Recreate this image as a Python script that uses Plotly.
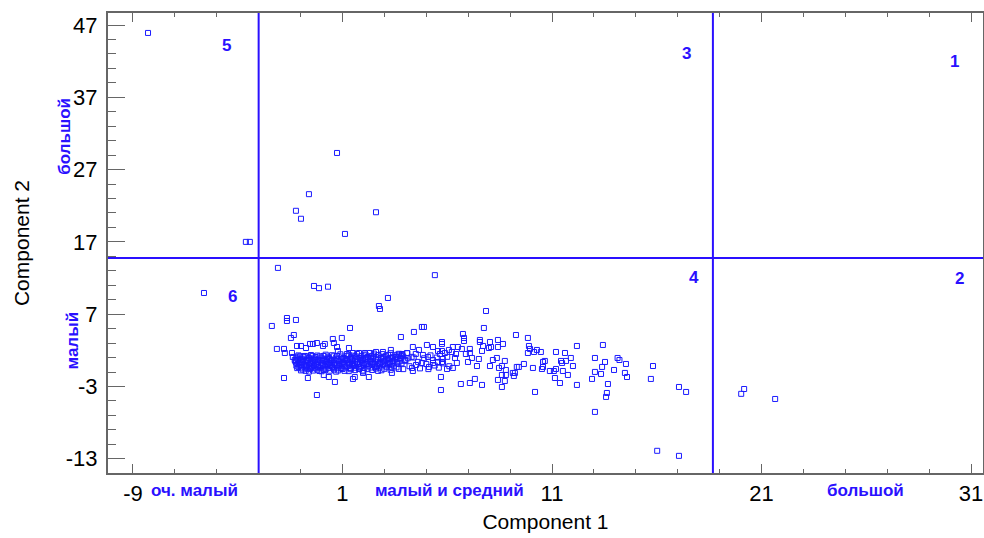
import plotly.graph_objects as go

# ---------------- data (Component 1, Component 2) ----------------
# scattered objects (outside the dense core)
spread_x = [-8.28, -3.61, -3.42, -5.61, 0.74, -0.60, -1.22, -0.98, 2.60, 1.12,
            -2.08, 5.41, -0.36, -0.12, 0.31, 3.17, 2.74, 2.79, 7.85, -2.37,
            -1.65, -1.65, -1.22, 1.36, -1.32, -1.46, 0.54, 0.97, 3.79, 4.41,
            4.79, 4.89, -2.13, -1.79, -1.75, -1.17, -0.98, -0.74, -0.55, -0.41,
            -0.22, 0.07, 0.16, 0.59, 0.74, 1.31, 0.78, -1.41, -1.37, -1.79,
            -0.65, -0.22, 0.11, 0.35, 0.64, 1.50, 1.59, 2.26, 1.79, 1.98,
            3.36, 3.69, 4.36, 4.32, 5.70, 5.70, 4.51, 4.79, 5.13, 5.32,
            5.56, 5.79, 5.89, 5.56, 5.32, 5.03, 4.36, 4.65, 5.75, 5.75,
            2.93, 3.31, 2.60, 2.31, 2.07, 1.79, 1.50, 1.21, 3.84, 4.08,
            3.55, 4.84, 5.08, 5.32,
            7.75, 6.75, 6.80, 6.80, 5.75, 7.56, 7.56, 8.04, 8.42, 9.28,
            9.85, 8.66, 7.71, 8.09, 7.99, 9.90, 6.51, 6.27, 6.08, 7.08,
            8.42, 7.66, 6.22, 6.70, 6.89, 7.08, 6.42, 10.28, 10.14, 10.47,
            9.85, 9.95, 11.19, 11.62, 12.19, 13.43, 5.65, 5.75, 6.37, 6.46,
            6.27, 5.99, 7.18, 6.99, 7.51, 7.42, 8.18, 8.37, 8.75, 8.04,
            8.61, 8.47, 9.32, 9.42, 9.66, 10.57, 10.52, 10.09, 10.66, 10.57,
            11.43, 11.48, 11.67, 11.90, 12.00, 11.19, 11.09, 10.90, 11.52, 11.76,
            11.14, 11.38, 12.19, 13.05, 13.53, 13.39, 13.05, 13.34, 12.91, 14.13,
            14.22, 14.53, 14.48, 14.58, 13.96, 13.67, 13.62, 13.58, 15.82, 15.72,
            6.65, 7.08, 7.32, 7.66, 8.42, 8.61, 8.75, 9.13, 9.23, 8.80,
            8.61, 9.18, 8.80, 10.19, 13.05,
            17.06, 17.40, 16.02, 17.06, 20.03, 20.17, 21.65]
spread_y = [45.9, 17.0, 17.0, 9.93, 29.3, 23.6, 21.3, 20.2, 21.1, 18.1,
            13.4, 12.4, 10.9, 10.6, 10.8, 9.24, 8.13, 7.72, 7.44, 5.37,
            6.06, 6.47, 6.20, 5.09, 4.12, 3.71, 3.57, 3.71, 3.84, 4.54,
            5.23, 5.23, 2.19, 2.19, 1.63, 2.60, 2.60, 2.32, 2.88, 2.88,
            3.01, 2.60, 2.88, 3.01, 2.46, 2.32, 1.91, 1.63, 1.08, -1.83,
            -1.83, -4.18, -1.41, -1.69, -2.38, -1.96, -1.69, -1.69, -0.58, -1.13,
            -1.13, -0.58, -0.86, -0.44, -3.49, -1.69, -0.03, 0.25, -0.30, 0.25,
            0.39, 0.80, 1.63, 1.91, 2.46, 2.74, 2.46, 2.05, 3.15, 2.88,
            1.77, 2.05, 1.77, 1.63, 1.63, 1.63, 1.63, 1.49, 1.49, 1.63,
            1.08, 1.36, 1.08, 0.66,
            5.09, 4.26, 3.71, 3.29, 1.91, 3.43, 3.15, 3.15, 3.43, 4.12,
            3.71, 2.88, 2.60, 2.46, 2.32, 2.60, 2.46, 2.46, 2.05, 2.19,
            2.46, 1.91, 1.77, 2.19, 1.49, 1.63, 1.49, 2.05, 1.77, 1.77,
            1.63, 2.19, 1.77, 1.63, 2.60, 2.74, 1.49, 0.39, 0.94, 0.25,
            -0.44, -0.58, 0.94, 0.39, 0.80, -0.17, 0.66, 0.94, 0.53, -0.17,
            -0.17, -0.44, -0.30, -0.30, 0.11, -0.30, -0.58, -0.44, 0.53, 0.39,
            0.53, 0.25, 0.53, 0.94, -0.17, -0.58, -0.86, -0.86, -0.86, -1.41,
            -1.83, -2.52, -2.79, 0.94, 0.39, -0.30, -0.99, -1.27, -1.96, 0.94,
            0.66, 0.11, -1.13, -1.69, -0.72, -2.66, -3.90, -4.45, -0.17, -1.96,
            -2.66, -2.52, -1.96, -2.79, -2.10, -3.07, -2.24, -1.13, -1.13, -1.41,
            -1.41, -1.55, -0.72, -3.76, -6.52,
            -3.07, -3.76, -11.9, -12.6, -4.02, -3.35, -4.73]

# dense core of the cloud
core_x = [-1.10, -0.80, -0.50, -0.20, 0.20, 0.50, 0.90, 1.30, 1.70, 2.10, 2.50, 2.90, 3.30, 3.70,
          -1.20, -0.95, -0.60, -0.35, 0.00, 0.35, 0.70, 1.05, 1.40, 1.80, 2.20, 2.60, 3.00, 3.40, 3.90, 4.30,
          -1.25, -1.00, -0.70, -0.40, -0.10, 0.15, 0.45, 0.80, 1.15, 1.50, 1.90, 2.30, 2.70, 3.10, 3.50, 4.00,
          -1.15, -0.85, -0.55, -0.25, 0.05, 0.30, 0.60, 0.95, 1.25, 1.60, 2.00, 2.40, 2.80, 3.20, 3.60,
          -1.10, -0.80, -0.45, -0.15, 0.15, 0.50, 0.85, 1.20, 1.55, 1.90, 2.25, 2.65, 3.05, 3.45,
          -0.90, -0.55, -0.20, 0.20, 0.60, 1.00, 1.40, 1.80, 2.20, 2.60, 3.00,
          -0.60, 0.00, 0.70, 1.30, 2.00, 2.70,
          -1.00, -0.65, -0.30, 0.05, 0.40, 0.75, 1.10, 1.45, 1.85, 2.15, 2.45, 2.85, 3.25,
          -1.05, -0.70, -0.35, 0.00, 0.40, 0.75, 1.10, 1.45, 1.75, 2.10, 2.45, 2.80, 3.15,
          3.80, 4.00, 4.20, 4.40, 4.60, 4.70, 4.90, 5.00, 5.20, 5.40, 3.90, 4.10, 4.50,
          5.10, 5.50, 5.60, 5.80, 6.00, 6.10]
core_y = [1.30, 1.22, 1.35, 1.28, 1.40, 1.32, 1.45, 1.38, 1.50, 1.42, 1.55, 1.48, 1.60, 1.52,
          0.90, 0.85, 0.95, 0.88, 0.98, 0.92, 1.00, 0.94, 1.05, 0.97, 1.08, 1.02, 1.12, 1.05, 1.15, 1.10,
          0.50, 0.45, 0.55, 0.48, 0.58, 0.52, 0.60, 0.55, 0.62, 0.57, 0.66, 0.60, 0.70, 0.64, 0.72, 0.68,
          0.10, 0.05, 0.14, 0.08, 0.16, 0.12, 0.18, 0.14, 0.20, 0.16, 0.24, 0.20, 0.26, 0.22, 0.30,
          -0.30, -0.34, -0.26, -0.30, -0.22, -0.27, -0.20, -0.24, -0.16, -0.20, -0.14, -0.18, -0.10, -0.14,
          -0.65, -0.60, -0.68, -0.62, -0.66, -0.58, -0.62, -0.55, -0.60, -0.52, -0.56,
          -0.95, -0.90, -0.95, -0.88, -0.92, -0.85,
          0.70, 0.72, 0.68, 0.74, 0.75, 0.78, 0.80, 0.82, 0.85, 0.88, 0.90, 0.93, 0.96,
          -0.10, -0.05, -0.08, -0.02, 0.00, 0.02, 0.04, 0.06, 0.08, 0.10, 0.12, 0.15, 0.18,
          1.20, 0.60, -0.20, 1.00, 0.40, -0.50, 0.90, 0.10, 1.30, -0.10, -0.60, 1.60, 1.50,
          -0.60, 1.00, -0.40, 0.20, 1.10, -0.20]

# further objects packed inside the core band
dense_x = [-1.18, -1.02, -0.86, -0.66, -0.44, -0.28, -0.08, 0.10, 0.32, 0.58,
           0.74, 1.00, 1.20, 1.52, 1.62, 1.90, 2.04, 2.36, 2.48, 2.72,
           3.08, 3.18, 3.52, 3.62, 3.84,
           -1.28, -1.10, -0.88, -0.72, -0.52, -0.30, -0.16, 0.08, 0.26, 0.48,
           0.62, 0.92, 1.22, 1.36, 1.62, 1.98, 2.08, 2.38, 2.62, 2.92,
           3.18, 3.36, 3.62, 3.78, 4.12,
           -1.22, -1.04, -0.92, -0.62, -0.48, -0.22, -0.04, 0.22, 0.38, 0.52,
           0.84, 1.02, 1.32, 1.44, 1.70, 1.84, 2.14, 2.34, 2.56, 2.86,
           2.98, 3.24, 3.42, 3.72, 3.96,
           -1.20, -0.98, -0.74, -0.60, -0.36, -0.18, 0.08, 0.24, 0.46, 0.66,
           0.86, 1.06, 1.34, 1.50, 1.72, 2.02, 2.18, 2.52, 2.72, 2.94,
           3.26, 3.38, 3.66, 3.82,
           -1.16, -0.94, -0.68, -0.50, -0.32, -0.06, 0.10, 0.34, 0.56, 0.76,
           0.94, 1.14, 1.36, 1.64, 1.82, 2.04, 2.34, 2.56, 2.76, 3.12,
           3.32, 3.58,
           -0.98, -0.76, -0.40, -0.10, 0.10, 0.40, 0.80, 1.10, 1.60, 1.96,
           2.42, 2.86, 3.30]
dense_y = [1.12, 1.18, 1.10, 1.15, 1.20, 1.08, 1.16, 1.22, 1.12, 1.18,
           1.24, 1.14, 1.20, 1.26, 1.16, 1.22, 1.30, 1.20, 1.28, 1.34,
           1.24, 1.36, 1.30, 1.40, 1.34,
           0.66, 0.74, 0.70, 0.62, 0.76, 0.68, 0.72, 0.64, 0.78, 0.70,
           0.66, 0.74, 0.68, 0.80, 0.72, 0.76, 0.84, 0.78, 0.82, 0.88,
           0.80, 0.92, 0.86, 0.94, 0.90,
           0.32, 0.26, 0.36, 0.30, 0.24, 0.34, 0.28, 0.38, 0.30, 0.26,
           0.34, 0.40, 0.32, 0.28, 0.42, 0.36, 0.44, 0.38, 0.46, 0.40,
           0.50, 0.44, 0.52, 0.48, 0.56,
           -0.12, -0.06, -0.14, -0.08, -0.16, -0.04, -0.10, -0.02, -0.12, -0.06,
           0.00, -0.08, 0.02, -0.04, 0.04, -0.02, 0.06, 0.00, 0.08, 0.04,
           0.10, 0.16, 0.12, 0.20,
           -0.46, -0.40, -0.50, -0.44, -0.48, -0.42, -0.52, -0.46, -0.40, -0.48,
           -0.44, -0.38, -0.46, -0.40, -0.36, -0.44, -0.38, -0.32, -0.40, -0.34,
           -0.28, -0.36,
           -0.78, -0.84, -0.80, -0.86, -0.76, -0.82, -0.78, -0.84, -0.74, -0.80,
           -0.72, -0.76, -0.70]

# quadrant boundaries
pc1_cuts = [-3.0, 18.68]
pc2_cuts = [14.77]

# region labels
region_labels = ["5", "3", "1", "4", "2", "6"]
region_x = [-4.52, 17.44, 30.23, 17.77, 30.47, -4.23]
region_y = [44.1, 43.0, 41.9, 12.1, 11.9, 9.5]

# class labels along the axes
pc1_class_names = ["оч. малый", "малый и средний", "большой"]
pc1_class_pos = [-6.04, 6.09, 25.98]
pc2_class_names = ["большой", "малый"]
pc2_class_pos = [31.6, 3.4]

x_ticks = [-9, 1, 11, 21, 31]
x_tick_text = ["-9", "1", "11", "21", "31"]
y_ticks = [-13, -3, 7, 17, 27, 37, 47]
y_tick_text = ["-13", "-3", "7", "17", "27", "37", "47"]
x_range = [-10.19, 31.57]
y_range = [-14.97, 48.66]

# ---------------- figure ----------------
BLUE = "#2a10ff"
MARK = "#1c1cff"
AXC = "#666666"
FONT = "Liberation Sans, Arial, sans-serif"

all_x = spread_x + core_x + dense_x
all_y = spread_y + core_y + dense_y

fig = go.Figure()
fig.add_trace(go.Scatter(
    x=all_x, y=all_y, mode="markers",
    marker=dict(symbol="square-open", size=5, color=MARK, line=dict(width=1, color=MARK)),
    showlegend=False, hoverinfo="x+y"))

for c in pc1_cuts:
    fig.add_shape(type="line", xref="x", yref="paper", x0=c, x1=c, y0=0, y1=1,
                  line=dict(color=BLUE, width=2))
for c in pc2_cuts:
    fig.add_shape(type="line", xref="paper", yref="y", x0=0, x1=1, y0=c, y1=c,
                  line=dict(color=BLUE, width=2))

for t, x, y in zip(region_labels, region_x, region_y):
    fig.add_annotation(x=x, y=y, xref="x", yref="y", text="<b>%s</b>" % t, showarrow=False,
                       font=dict(family=FONT, size=17, color=BLUE))

for t, x in zip(pc1_class_names, pc1_class_pos):
    fig.add_annotation(x=x, y=-0.063, xref="x", yref="paper", text="<b>%s</b>" % t,
                       showarrow=False, font=dict(family=FONT, size=17, color=BLUE))
for t, y, px in zip(pc2_class_names, pc2_class_pos, [-0.063, -0.054]):
    fig.add_annotation(x=px, y=y, xref="paper", yref="y", text="<b>%s</b>" % t, textangle=-90,
                       showarrow=False, font=dict(family=FONT, size=17, color=BLUE))

fig.update_layout(
    width=984, height=538,
    margin=dict(l=108, r=1, t=13, b=65, autoexpand=False),
    paper_bgcolor="white", plot_bgcolor="white",
    font=dict(family=FONT, color="black"),
    xaxis=dict(range=x_range, tickvals=x_ticks, ticktext=x_tick_text, ticks="inside", ticklen=9,
               tickwidth=1, tickcolor=AXC, showline=True, linecolor=AXC, linewidth=2, mirror="ticks",
               showgrid=False, zeroline=False, tickfont=dict(size=22, color="black"),
               ticklabelstandoff=0,
               minor=dict(tick0=-9, dtick=2, ticks="inside", ticklen=4, tickcolor=AXC, showgrid=False),
               title=dict(text="Component 1", font=dict(size=21, color="black"), standoff=9)),
    yaxis=dict(range=y_range, tickvals=y_ticks, ticktext=y_tick_text, ticks="inside", ticklen=17,
               tickwidth=1, tickcolor=AXC, showline=True, linecolor=AXC, linewidth=2, mirror=True,
               showgrid=False, zeroline=False, tickfont=dict(size=22, color="black"),
               ticklabelstandoff=4,
               minor=dict(tick0=-13, dtick=2, ticks="inside", ticklen=8, tickcolor=AXC, showgrid=False),
               title=dict(text="Component 2", font=dict(size=21, color="black"), standoff=30)),
    yaxis2=dict(range=y_range, overlaying="y", side="right", tickvals=y_ticks, ticks="inside",
                ticklen=5, tickcolor=AXC, showticklabels=False, showgrid=False, zeroline=False,
                showline=False,
                minor=dict(tick0=-13, dtick=2, ticks="inside", ticklen=3, tickcolor=AXC, showgrid=False)),
)

fig.write_html("out.html")
